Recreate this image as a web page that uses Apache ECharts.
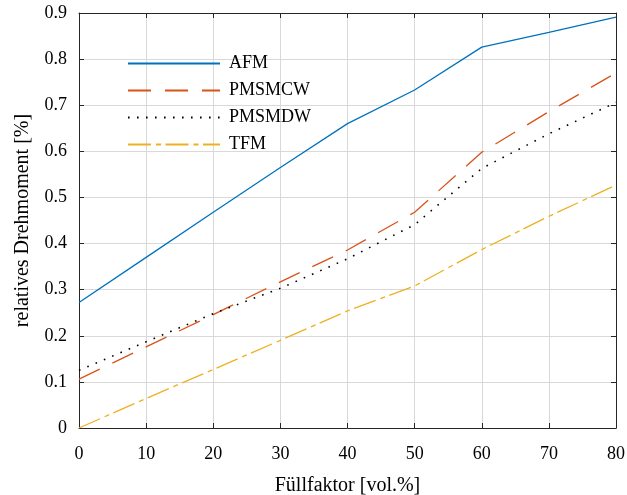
<!DOCTYPE html>
<html><head><meta charset="utf-8">
<script src="https://cdn.jsdelivr.net/npm/echarts@6/dist/echarts.min.js"></script>
<style>html,body{margin:0;padding:0;background:#fff}#c{width:627px;height:495px}</style>
</head><body><div id="c"></div>
<script>
const xValues = [0, 10, 20, 30, 40, 50, 60, 70, 80];
const afm    = [0.272, 0.370, 0.468, 0.565, 0.660, 0.733, 0.826, 0.858, 0.891];
const pmsmcw = [0.106, 0.176, 0.246, 0.317, 0.386, 0.468, 0.598, 0.686, 0.770];
const pmsmdw = [0.125, 0.187, 0.248, 0.303, 0.367, 0.441, 0.563, 0.638, 0.706];
const tfm    = [0.000, 0.064, 0.127, 0.190, 0.254, 0.308, 0.387, 0.459, 0.527];
const seriesNames = ['AFM', 'PMSMCW', 'PMSMDW', 'TFM'];
const yTicks = ['0','0.1','0.2','0.3','0.4','0.5','0.6','0.7','0.8','0.9'];

const FONT = 'Liberation Serif';
const axisCol = '#262626';
const pair = arr => xValues.map((x, i) => [x, arr[i]]);
const styles = [
  {color: '#0072BD', type: 'solid'},
  {color: '#D95319', type: [23, 14]},
  {color: '#000000', type: [1.6, 7.4]},
  {color: '#EDB120', type: [23, 5, 5, 4.5]}
];
const datas = [afm, pmsmcw, pmsmdw, tfm];

const chart = echarts.init(document.getElementById('c'), null, {renderer: 'canvas'});
const baseAxis = {
  axisLine: {show: true, onZero: false, lineStyle: {color: axisCol, width: 1}},
  axisTick: {show: true, inside: true, length: 5, lineStyle: {color: axisCol}},
  splitLine: {show: false}
};
chart.setOption({
  animation: false,
  backgroundColor: '#fff',
  grid: {left: 79, right: 11, top: 13, bottom: 67, containLabel: false, outerBoundsMode: 'none'},
  legend: {
    left: 122, top: 49.5, orient: 'vertical',
    itemWidth: 92, itemHeight: 14, itemGap: 9,
    itemStyle: {opacity: 0},
    textStyle: {fontFamily: FONT, fontSize: 18, color: '#000', lineHeight: 18, padding: [0, 0, 0, 4]},
    data: seriesNames
  },
  xAxis: [
    Object.assign({}, baseAxis, {
      type: 'value', min: 0, max: 80, interval: 10, position: 'bottom',
      axisLabel: {fontFamily: FONT, fontSize: 18, color: '#000', margin: 17},
      splitLine: {show: true, lineStyle: {color: '#d9d9d9', width: 1}},
      name: 'Füllfaktor [vol.%]', nameLocation: 'middle', nameGap: 48,
      nameTextStyle: {fontFamily: FONT, fontSize: 20, color: '#000'}
    }),
    Object.assign({}, baseAxis, {
      type: 'value', min: 0, max: 80, interval: 10, position: 'top',
      axisLabel: {show: false}
    })
  ],
  yAxis: [
    Object.assign({}, baseAxis, {
      type: 'value', min: 0, max: 0.9, interval: 0.1, position: 'left',
      axisLabel: {fontFamily: FONT, fontSize: 18, color: '#000', margin: 12,
        formatter: v => yTicks[Math.round(v * 10)]},
      splitLine: {show: true, lineStyle: {color: '#d9d9d9', width: 1}},
      name: 'relatives Drehmoment [%]', nameLocation: 'middle', nameGap: 46,
      nameTextStyle: {fontFamily: FONT, fontSize: 20, color: '#000'}
    }),
    Object.assign({}, baseAxis, {
      type: 'value', min: 0, max: 0.9, interval: 0.1, position: 'right',
      axisLabel: {show: false}
    })
  ],
  series: seriesNames.map((n, i) => ({
    name: n, type: 'line', data: pair(datas[i]),
    xAxisIndex: 0, yAxisIndex: 0,
    symbol: 'none', showSymbol: false,
    lineStyle: {color: styles[i].color, width: i === 2 ? 1.6 : 1.3, type: styles[i].type},
    itemStyle: {color: styles[i].color},
    emphasis: {disabled: true}
  }))
});
</script></body></html>
